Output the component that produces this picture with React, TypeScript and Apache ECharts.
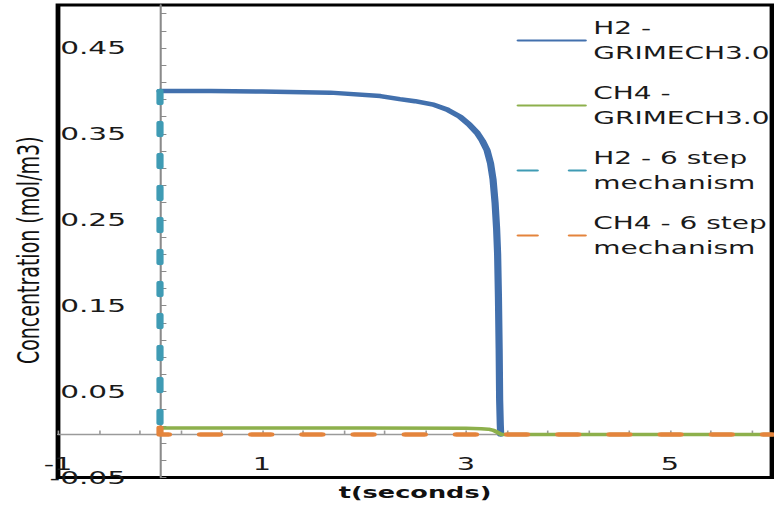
import React, { useEffect, useRef } from "react";
import * as echarts from "echarts";

// The reference picture is a horizontally stretched Excel chart; draw at a
// narrower width and stretch the page element horizontally by the same factor.
const PAGE_W = 774;
const PAGE_H = 508;
const INNER_W = 484;
const SX = PAGE_W / INNER_W;

const FONT = "DejaVu Sans";
const TEXT_COLOR = "#1a1a1a";

const seriesNames = [
  "H2 - GRIMECH3.0",
  "CH4 - GRIMECH3.0",
  "H2 - 6 step mechanism",
  "CH4 - 6 step mechanism",
];
const legendLabels = [
  "H2 -\nGRIMECH3.0",
  "CH4 -\nGRIMECH3.0",
  "H2 - 6 step\nmechanism",
  "CH4 - 6 step\nmechanism",
];
const seriesColors = ["#4270ad", "#8db04c", "#3f9bb4", "#e4843c"];

// H2 - GRIMECH3.0
const h2GriT = [0, 0.5, 1.0, 1.67, 2.16, 2.35, 2.5, 2.68, 2.82, 2.94, 3.03, 3.11, 3.16, 3.206, 3.24, 3.265, 3.285, 3.3, 3.31, 3.318, 3.325, 3.33, 3.336, 3.34];
const h2GriC = [0.4, 0.3998, 0.3993, 0.398, 0.394, 0.3905, 0.388, 0.384, 0.378, 0.37, 0.361, 0.351, 0.342, 0.331, 0.316, 0.297, 0.27, 0.24, 0.21, 0.16, 0.1, 0.04, 0.012, 0];

// CH4 - GRIMECH3.0
const ch4GriT = [0, 1.0, 2.0, 3.0, 3.15, 3.22, 3.27, 3.3, 3.33, 3.35, 4.0, 5.0, 6.0];
const ch4GriC = [0.0077, 0.0076, 0.0075, 0.0072, 0.0068, 0.0062, 0.0048, 0.003, 0.0012, 0, 0, 0, 0];

// H2 - 6 step mechanism
const h2SixT = [0, 0];
const h2SixC = [0.4, 0];

// CH4 - 6 step mechanism
const ch4SixT = [0, 0, 6];
const ch4SixC = [0.0078, 0, 0];

// axis labels / ticks
const xTickLabels = [-1, 1, 3, 5];
const yTickLabels = [-0.05, 0.05, 0.15, 0.25, 0.35, 0.45];
const xTicks: number[] = [];
for (let i = 0; i <= 17; i++) xTicks.push(Math.round((-1 + i * 0.4) * 100) / 100);
const yTicks: number[] = [];
for (let i = 0; i <= 27; i++) yTicks.push(Math.round((-0.05 + i * 0.02) * 1000) / 1000);

const zip = (t: number[], c: number[]) => t.map((v, i) => [v, c[i]]);

export default function App() {
  const ref = useRef<HTMLDivElement>(null);

  useEffect(() => {
    if (!ref.current) return;
    const chart = echarts.init(ref.current, null, { renderer: "svg" });
    const dash = [12, 20];
    chart.setOption({
      animation: false,
      backgroundColor: "#ffffff",
      grid: {
        left: 58 / SX,
        right: INNER_W - 772 / SX,
        top: 5,
        bottom: PAGE_H - 477.5,
        show: true,
        borderColor: "#000000",
        borderWidth: 3,
        backgroundColor: "transparent",
        containLabel: false,
        outerBoundsMode: "none",
      },
      legend: {
        orient: "vertical",
        left: 318,
        top: -2,
        padding: 5,
        itemGap: -10,
        itemWidth: 42,
        itemHeight: 14,
        selectedMode: false,
        data: seriesNames,
        formatter: (name: string) => legendLabels[seriesNames.indexOf(name)],
        itemStyle: { opacity: 0 },
        textStyle: {
          fontFamily: FONT,
          fontSize: 17.5,
          lineHeight: 25,
          color: TEXT_COLOR,
          padding: [25, 0, 0, 0],
        },
      },
      xAxis: {
        type: "value",
        min: -1,
        max: 6,
        axisLine: { onZero: true, lineStyle: { color: "#9a9a9a", width: 1.3 } },
        axisTick: {
          inside: true,
          length: 4,
          customValues: xTicks,
          lineStyle: { color: "#9a9a9a", width: 1 },
        },
        axisLabel: {
          customValues: xTickLabels,
          margin: -23,
          fontFamily: FONT,
          fontSize: 18,
          color: TEXT_COLOR,
          formatter: (v: number) => String(v),
        },
        splitLine: { show: false },
        name: "t(seconds)",
        nameLocation: "middle",
        nameGap: 7,
        nameMoveOverlap: false,
        nameTextStyle: {
          fontFamily: FONT,
          fontSize: 16,
          fontWeight: "bold",
          color: "#111111",
        },
      },
      yAxis: {
        type: "value",
        min: -0.05,
        max: 0.5,
        axisLine: { onZero: true, lineStyle: { color: "#8a8a8a", width: 1.3 } },
        axisTick: {
          inside: true,
          length: 4,
          customValues: yTicks,
          lineStyle: { color: "#8a8a8a", width: 1 },
        },
        axisLabel: {
          customValues: yTickLabels,
          margin: -42.5,
          fontFamily: FONT,
          fontSize: 18.5,
          color: TEXT_COLOR,
          formatter: (v: number) => v.toFixed(2),
        },
        splitLine: { show: false },
        name: "Concentration (mol/m3)",
        nameLocation: "middle",
        nameGap: 9,
        nameMoveOverlap: false,
        nameTextStyle: {
          fontFamily: FONT,
          fontSize: 19,
          color: "#111111",
          padding: [0, 18, 0, 0],
        },
      },
      series: [
        {
          name: seriesNames[0],
          type: "line",
          data: zip(h2GriT, h2GriC),
          symbol: "none",
          lineStyle: { color: seriesColors[0], width: 4.5, cap: "round", join: "round" },
          itemStyle: { color: seriesColors[0] },
        },
        {
          name: seriesNames[1],
          type: "line",
          data: zip(ch4GriT, ch4GriC),
          symbol: "none",
          lineStyle: { color: seriesColors[1], width: 3.5, cap: "round", join: "round" },
          itemStyle: { color: seriesColors[1] },
        },
        {
          name: seriesNames[2],
          type: "line",
          data: zip(h2SixT, h2SixC),
          symbol: "none",
          lineStyle: { color: seriesColors[2], width: 4.5, type: dash, cap: "round", join: "round" },
          itemStyle: { color: seriesColors[2] },
        },
        {
          name: seriesNames[3],
          type: "line",
          data: zip(ch4SixT, ch4SixC),
          symbol: "none",
          lineStyle: { color: seriesColors[3], width: 4.5, type: dash, cap: "round", join: "round" },
          itemStyle: { color: seriesColors[3] },
        },
      ],
    });
    return () => chart.dispose();
  }, []);

  return (
    <div
      style={{
        position: "absolute",
        left: 0,
        top: 0,
        width: PAGE_W,
        height: PAGE_H,
        overflow: "hidden",
        background: "#ffffff",
      }}
    >
      <div
        ref={ref}
        style={{
          width: INNER_W,
          height: PAGE_H,
          transform: `scaleX(${SX})`,
          transformOrigin: "0 0",
        }}
      />
    </div>
  );
}
